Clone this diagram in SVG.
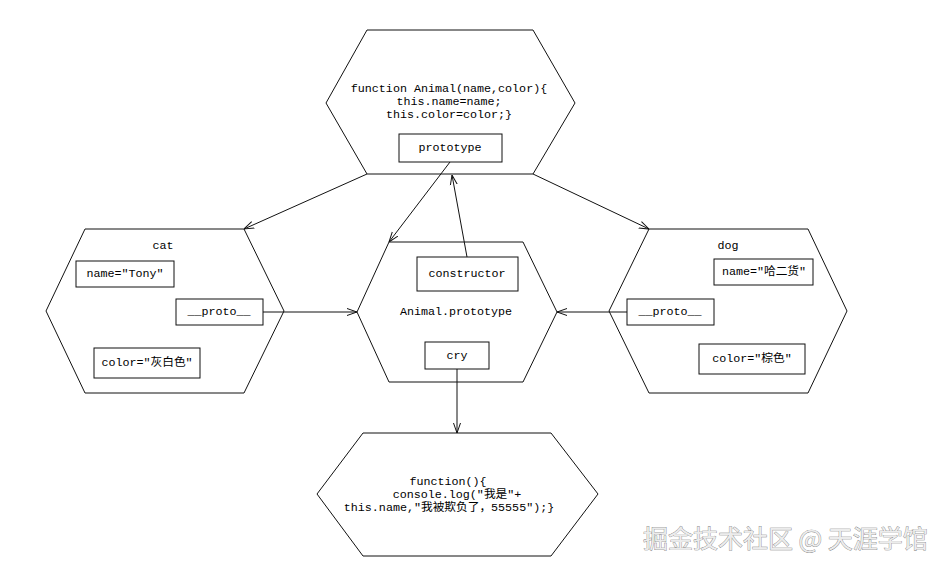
<svg xmlns="http://www.w3.org/2000/svg" width="945" height="567" viewBox="0 0 945 567">
<style>
.hex{fill:#fff;stroke:#111;stroke-width:1}
.box{fill:#fff;stroke:#111;stroke-width:1}
.t{font-family:"Liberation Mono","Noto Sans CJK SC",monospace;font-size:11.7px;fill:#000;text-anchor:middle;dominant-baseline:central}
.c{stroke:#111;stroke-width:1;fill:none;marker-end:url(#arr)}
.wm{font-family:"Noto Sans CJK SC","Noto Sans",sans-serif;font-size:25px;fill:#ececec;stroke:#7a7a7a;stroke-width:0.7;paint-order:stroke;dominant-baseline:central}
</style>
<defs>
<marker id="arr" viewBox="0 0 10 10" refX="10" refY="5" markerWidth="10" markerHeight="10" markerUnits="userSpaceOnUse" orient="auto">
<path d="M0,1.5 L10,5 L0,8.5" fill="none" stroke="#111" stroke-width="1"/>
</marker>
</defs>
<rect width="945" height="567" fill="#fff"/>

<g id="animal">
<polygon class="hex" points="367,30 533,30 575,103 533,174 367,174 326,103"/>
<text class="t" x="449" y="89">function Animal(name,color){</text>
<text class="t" x="449" y="102">this.name=name;</text>
<text class="t" x="449" y="115">this.color=color;}</text>
<g id="prototype">
<rect class="box" x="399" y="134" width="103" height="28"/>
<text class="t" x="450" y="148">prototype</text>
</g>
</g>

<g id="cat">
<polygon class="hex" points="85,229 244,229 284,311 244,393 85,393 46,311"/>
<text class="t" x="163" y="246">cat</text>
<rect class="box" x="76" y="261" width="98" height="26"/>
<text class="t" x="125" y="274">name="Tony"</text>
<rect class="box" x="176" y="299" width="87" height="26"/>
<text class="t" x="219" y="312">__proto__</text>
<rect class="box" x="94" y="348" width="106" height="30"/>
<text class="t" x="147" y="363">color="灰白色"</text>
</g>

<g id="animal-prototype">
<polygon class="hex" points="389,242 523,242 557,312 523,382 389,382 357,312"/>
<rect class="box" x="417" y="257" width="101" height="34"/>
<text class="t" x="467" y="274">constructor</text>
<text class="t" x="456" y="312">Animal.prototype</text>
<rect class="box" x="425" y="342" width="64" height="27"/>
<text class="t" x="457" y="356">cry</text>
</g>

<g id="dog">
<polygon class="hex" points="649,229 808,229 847,311 808,393 649,393 609,311"/>
<text class="t" x="728" y="246">dog</text>
<rect class="box" x="714" y="259" width="99" height="26"/>
<text class="t" x="764" y="272">name="哈二货"</text>
<rect class="box" x="627" y="299" width="87" height="26"/>
<text class="t" x="670" y="312">__proto__</text>
<rect class="box" x="699" y="344" width="106" height="30"/>
<text class="t" x="752" y="359">color="棕色"</text>
</g>

<g id="cry-function">
<polygon class="hex" points="363,433 551,433 598,494 551,556 363,556 317,494"/>
<text class="t" x="448" y="482">function(){</text>
<text class="t" x="457" y="495">console.log("我是"+</text>
<text class="t" x="449" y="508">this.name,"我被欺负了，55555");}</text>
</g>

<g id="connectors">
<line class="c" x1="367" y1="174" x2="244" y2="229"/>
<line class="c" x1="533" y1="174" x2="649" y2="229"/>
<line class="c" x1="450" y1="162" x2="389" y2="242"/>
<line class="c" x1="467" y1="257" x2="452" y2="175"/>
<line class="c" x1="263" y1="312" x2="357" y2="312"/>
<line class="c" x1="627" y1="312" x2="557" y2="312"/>
<line class="c" x1="457" y1="369" x2="457" y2="433"/>
</g>

<text class="wm" x="643" y="537">掘金技术社区 @ 天涯学馆</text>
</svg>
